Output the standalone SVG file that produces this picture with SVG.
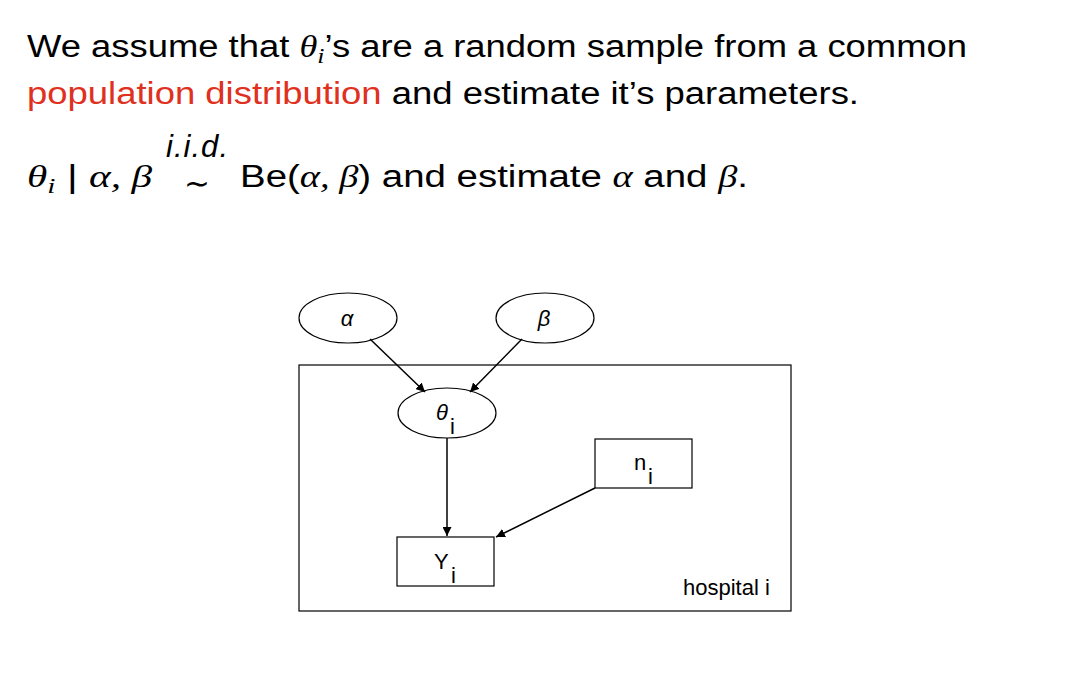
<svg xmlns="http://www.w3.org/2000/svg" width="1073" height="676" viewBox="0 0 1073 676">
<style>
.t{font-family:"Liberation Sans",Arial,sans-serif;font-size:31px;fill:#000}
.m{font-family:"Liberation Serif","Times New Roman",serif;font-style:italic}
.n{fill:#fff;stroke:#000;stroke-width:1.2}
.l{font-family:"Liberation Sans",Arial,sans-serif;font-size:22px;fill:#000}
.e{stroke:#000;stroke-width:1.5;fill:none;marker-end:url(#a)}
</style>
<defs><marker id="a" viewBox="0 0 10 10" refX="10" refY="5" markerWidth="9" markerHeight="9" orient="auto" markerUnits="userSpaceOnUse"><path d="M0,0 L10,5 L0,10 z" fill="#000"/></marker></defs>
<rect width="1073" height="676" fill="#fff"/>
<text class="t" x="27" y="57" textLength="940" lengthAdjust="spacingAndGlyphs">We assume that <tspan class="m">θ<tspan font-size="22" dy="6">i</tspan></tspan><tspan dy="-6">’s are a random sample from a common</tspan></text>
<text class="t" x="27" y="104" textLength="832" lengthAdjust="spacingAndGlyphs"><tspan fill="#e0301e">population distribution</tspan> and estimate it’s parameters.</text>
<text class="t" x="27" y="187" font-size="34" textLength="125" lengthAdjust="spacingAndGlyphs"><tspan class="m">θ<tspan font-size="22" dy="6">i</tspan></tspan><tspan dy="-6"> | </tspan><tspan class="m">α, β</tspan></text>
<text class="t" x="166" y="157" font-size="22" font-style="italic" textLength="62">i.i.d.</text>
<text class="t" x="184" y="194" font-size="38">∼</text>
<text class="t" x="240" y="187" font-size="34" textLength="508" lengthAdjust="spacingAndGlyphs">Be(<tspan class="m">α, β</tspan>) and estimate <tspan class="m">α</tspan> and <tspan class="m">β</tspan>.</text>
<rect id="plate" x="299" y="365" width="492" height="246" class="n"/>
<g id="alpha"><ellipse cx="348" cy="318" rx="49" ry="25" class="n"/><text x="347" y="326" class="l m" font-size="25" text-anchor="middle">α</text></g>
<g id="beta"><ellipse cx="545" cy="318" rx="49" ry="25" class="n"/><text x="544" y="326" class="l m" font-size="25" text-anchor="middle">β</text></g>
<g id="theta"><ellipse cx="447" cy="413" rx="49" ry="25" class="n"/><text x="442" y="420" class="l m" font-size="25" text-anchor="middle">θ</text><text x="450" y="434" class="l" font-size="17">i</text></g>
<g id="n"><rect x="595" y="439" width="97" height="49" class="n"/><text x="634" y="470" class="l">n</text><text x="648" y="484" class="l" font-size="17">i</text></g>
<g id="Y"><rect x="397" y="537" width="97" height="49" class="n"/><text x="434" y="569" class="l">Y</text><text x="451" y="583" class="l" font-size="17">i</text></g>
<text x="683" y="595" class="l" font-size="21">hospital i</text>
<g id="edges">
<line x1="370" y1="339" x2="425" y2="392" class="e"/>
<line x1="522" y1="339" x2="470" y2="392" class="e"/>
<line x1="447" y1="438" x2="447" y2="536" class="e"/>
<line x1="595" y1="488" x2="496" y2="537" class="e"/>
</g>
</svg>
